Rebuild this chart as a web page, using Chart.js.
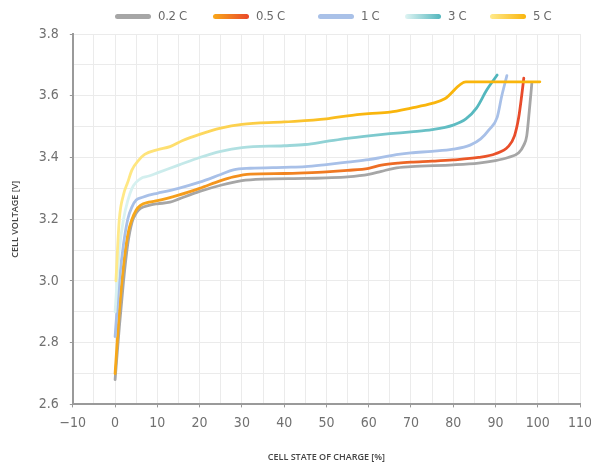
<!DOCTYPE html>
<html>
<head>
<meta charset="utf-8">
<script src="https://cdn.jsdelivr.net/npm/chart.js@4/dist/chart.umd.min.js"></script>
<style>
html,body{margin:0;padding:0;background:#fff;}
#wrap{width:591px;height:466px;position:relative;}
#legend{position:absolute;left:0;top:0;width:591px;height:30px;}
.item{position:absolute;top:9px;height:14px;display:flex;align-items:center;}
.sw{width:36px;height:5px;border-radius:3px;margin-right:7px;}
.lt{font-family:'DejaVu Sans Condensed','DejaVu Sans',sans-serif;font-stretch:condensed;font-size:13px;color:#6a6a6a;line-height:14px;letter-spacing:-0.3px;}
</style>
</head>
<body>
<div id="wrap">
<canvas id="c" width="591" height="466"></canvas>
<div id="legend"></div>
</div>
<script>
const seriesLabels = ['0.2 C', '0.5 C', '1 C', '3 C', '5 C'];

const soc02 = [0, 1, 2, 3, 4, 5, 6, 8, 10, 13, 15, 20, 25, 30, 35, 45, 50, 55, 60, 63, 66, 70, 80, 86, 90, 93, 95.5, 96.7, 97.4, 98, 98.6];
const v02   = [2.68, 2.85, 3.0, 3.12, 3.19, 3.22, 3.235, 3.245, 3.25, 3.255, 3.265, 3.29, 3.31, 3.325, 3.33, 3.332, 3.334, 3.337, 3.345, 3.355, 3.365, 3.37, 3.376, 3.382, 3.39, 3.4, 3.415, 3.44, 3.47, 3.55, 3.64];

const soc05 = [0, 1, 2, 3, 4, 5, 6, 8, 10, 15, 20, 25, 28, 32, 40, 45, 50, 55, 60, 63, 67, 70, 75, 80, 86, 90, 93, 94.5, 95.5, 96.2, 96.7];
const v05   = [2.70, 2.9, 3.05, 3.15, 3.2, 3.23, 3.245, 3.255, 3.26, 3.278, 3.30, 3.325, 3.337, 3.346, 3.348, 3.35, 3.353, 3.358, 3.365, 3.375, 3.382, 3.385, 3.388, 3.392, 3.40, 3.412, 3.435, 3.47, 3.53, 3.6, 3.657];

const soc1 = [0, 1, 2, 3, 4, 5, 6.5, 8, 10, 15, 20, 25, 28, 32, 40, 45, 50, 55, 60, 63, 67, 70, 75, 80, 84, 86.5, 88.5, 90.4, 91.5, 92.7];
const v1   = [2.82, 3.0, 3.12, 3.2, 3.24, 3.262, 3.271, 3.278, 3.284, 3.3, 3.32, 3.345, 3.36, 3.365, 3.368, 3.37, 3.377, 3.385, 3.393, 3.40, 3.41, 3.415, 3.42, 3.427, 3.44, 3.46, 3.49, 3.53, 3.6, 3.665];

const soc3 = [0, 1, 2, 3, 4, 5, 6.5, 8, 10, 15, 20, 25, 30, 40, 45, 50, 55, 60, 65, 70, 75, 80, 83, 85.5, 88, 90.4];
const v3   = [2.9, 3.1, 3.2, 3.26, 3.3, 3.32, 3.335, 3.34, 3.35, 3.375, 3.4, 3.42, 3.432, 3.438, 3.442, 3.452, 3.462, 3.47, 3.477, 3.483, 3.49, 3.505, 3.525, 3.56, 3.62, 3.667];

const soc5 = [0.2, 1, 2, 3, 4, 5.5, 7, 10, 13, 16, 20, 25, 30, 40, 50, 55, 60, 65, 70, 75, 78, 83, 100.5];
const v5   = [3.0, 3.2, 3.28, 3.32, 3.36, 3.39, 3.41, 3.425, 3.435, 3.455, 3.475, 3.495, 3.507, 3.515, 3.525, 3.535, 3.542, 3.547, 3.56, 3.575, 3.59, 3.645, 3.645];

const xTicks = [-10, 0, 10, 20, 30, 40, 50, 60, 70, 80, 90, 100, 110];
const yTicks = [2.6, 2.8, 3.0, 3.2, 3.4, 3.6, 3.8];

function pts(xs, ys){ return xs.map((x,i)=>({x:x, y:ys[i]})); }

function grad(c0, c1, x0, x1, fallback){
  return function(ctx){
    const chart = ctx.chart;
    const area = chart.chartArea;
    const xs = chart.scales.x;
    if(!area || !xs) return fallback;
    const g = chart.ctx.createLinearGradient(xs.getPixelForValue(x0), 0, xs.getPixelForValue(x1), 0);
    g.addColorStop(0, c0);
    g.addColorStop(1, c1);
    return g;
  };
}

const legendFills = [
  '#a6a6a6',
  'linear-gradient(90deg,#f9a81a,#e9482a)',
  '#a9c1e8',
  'linear-gradient(90deg,#dff4f3,#52b6bd)',
  'linear-gradient(90deg,#ffea8c,#f9b50c)'
];

const datasets = [
  {label: seriesLabels[0], data: pts(soc02, v02), borderColor: '#a6a6a6'},
  {label: seriesLabels[1], data: pts(soc05, v05), borderColor: grad('#f7a81a', '#e84a2b', 5, 97, '#f0742a')},
  {label: seriesLabels[2], data: pts(soc1, v1), borderColor: '#a8c0e8'},
  {label: seriesLabels[3], data: pts(soc3, v3), borderColor: grad('#d9f2f1', '#4fb5bc', 3, 90, '#7ccaca')},
  {label: seriesLabels[4], data: pts(soc5, v5), borderColor: grad('#ffea8a', '#f9b50c', 0, 60, '#fcc62e')}
].map(d=>Object.assign(d, {
  borderWidth: 2.8,
  pointRadius: 0,
  fill: false,
  cubicInterpolationMode: 'monotone',
  borderCapStyle: 'round',
  borderJoinStyle: 'round'
}));

// HTML legend
const lg = document.getElementById('legend');
const legendPos = [115, 213, 318, 405, 490];
seriesLabels.forEach((l,i)=>{
  const it = document.createElement('div');
  it.className = 'item';
  it.style.left = legendPos[i] + 'px';
  const sw = document.createElement('div');
  sw.className = 'sw';
  sw.style.background = legendFills[i];
  const tx = document.createElement('span');
  tx.className = 'lt';
  tx.textContent = l;
  it.appendChild(sw); it.appendChild(tx);
  lg.appendChild(it);
});

const tickFont = {family: "'DejaVu Sans Condensed', 'DejaVu Sans', sans-serif", size: 14};

new Chart(document.getElementById('c'), {
  type: 'line',
  data: {datasets: datasets.slice().reverse()},
  options: {
    responsive: false,
    animation: false,
    layout: {padding: {left: 10, right: 0, top: 34, bottom: 3}},
    plugins: {
      legend: {display: false},
      tooltip: {enabled: false}
    },
    scales: {
      x: {
        type: 'linear',
        min: -10, max: 110,
        afterBuildTicks: function(axis){
          const t = [];
          for(let v=-10; v<=110; v+=5) t.push({value:v});
          axis.ticks = t;
        },
        afterFit: function(axis){ axis.paddingRight = 11; axis.paddingLeft = 0; },
        grid: {
          color: '#ebebeb',
          lineWidth: 1,
          drawTicks: true,
          tickLength: 3,
          tickColor: function(c){ return xTicks.includes(c.tick.value) ? '#999' : 'rgba(0,0,0,0)'; }
        },
        border: {color: '#9a9a9a', width: 2},
        ticks: {
          color: '#707070',
          padding: 8,
          maxRotation: 0,
          autoSkip: false,
          font: tickFont,
          callback: function(v){ return xTicks.includes(v) ? (v<0 ? '\u2212' + Math.abs(v) : String(v)) : ''; }
        },
        title: {
          display: true,
          text: 'CELL STATE OF CHARGE [%]',
          color: '#444',
          font: {family: "'Open Sans', sans-serif", size: 9, weight: '600'},
          padding: {top: 12, bottom: 0}
        }
      },
      y: {
        type: 'linear',
        min: 2.6, max: 3.8,
        afterBuildTicks: function(axis){
          const t = [];
          for(let i=0; i<=12; i++) t.push({value: Math.round((2.6 + i*0.1)*10)/10});
          axis.ticks = t;
        },
        afterFit: function(axis){ axis.paddingTop = 0; axis.paddingBottom = 0; },
        grid: {
          color: '#ebebeb',
          lineWidth: 1,
          drawTicks: true,
          tickLength: 3,
          tickColor: function(c){ return yTicks.some(v=>Math.abs(v-c.tick.value)<1e-6) ? '#999' : 'rgba(0,0,0,0)'; }
        },
        border: {color: '#9a9a9a', width: 2},
        ticks: {
          color: '#707070',
          padding: 11,
          autoSkip: false,
          font: tickFont,
          callback: function(v){
            return yTicks.some(t=>Math.abs(t-v)<1e-6) ? v.toFixed(1) : '';
          }
        },
        title: {
          display: true,
          text: 'CELL VOLTAGE [V]',
          color: '#444',
          font: {family: "'Open Sans', sans-serif", size: 9, weight: '600'},
          padding: {top: 0, bottom: 7}
        }
      }
    }
  }
});
</script>
</body>
</html>
